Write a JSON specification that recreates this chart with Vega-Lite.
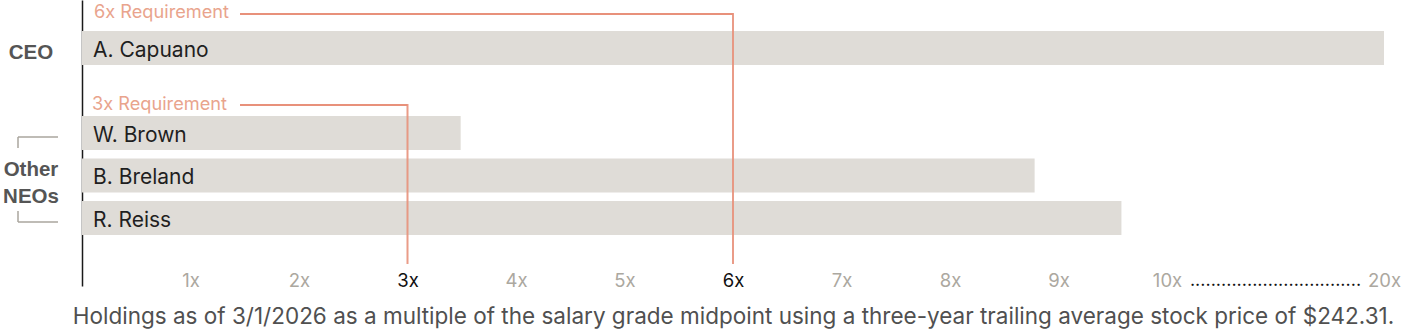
{
  "$schema": "https://vega.github.io/schema/vega-lite/v6.json",
  "width": 1302,
  "height": 286,
  "autosize": "none",
  "padding": {"left": 82, "top": 0, "right": 18, "bottom": 46},
  "config": {
    "font": "Inter",
    "view": {"stroke": null},
    "axisY": {"labels": false, "ticks": false, "grid": false, "domainColor": "#1a1a1a", "domainWidth": 1.5},
    "axisX": {"domain": false, "ticks": false, "tickSize": 0, "grid": false, "labelFlush": false, "labelOverlap": false, "labelBound": false}
  },
  "datasets": {
    "holdings": [
      {"name": "A. Capuano", "group": "CEO", "multiple": 20},
      {"name": "W. Brown", "group": "Other NEOs", "multiple": 3.49},
      {"name": "B. Breland", "group": "Other NEOs", "multiple": 8.78},
      {"name": "R. Reiss", "group": "Other NEOs", "multiple": 9.58}
    ],
    "requirements": [
      {"label": "6x Requirement", "req": 6, "anchor": "A. Capuano", "last": "R. Reiss", "base": 0},
      {"label": "3x Requirement", "req": 3, "anchor": "W. Brown", "last": "R. Reiss", "base": 0}
    ],
    "groups": [
      {"group": "CEO", "anchor": "A. Capuano", "base": 0},
      {"group": "Other NEOs", "anchor": "B. Breland", "base": 0}
    ],
    "brackets": [
      {"top": "W. Brown", "bottom": "R. Reiss", "base": 0}
    ],
    "leader": [
      {"dots": ".................................", "mid": 15, "anchor": "R. Reiss"}
    ]
  },
  "layer": [
    {
      "data": {"name": "holdings"},
      "mark": {"type": "bar", "color": "#dfdcd7"},
      "encoding": {
        "x": {
          "field": "multiple",
          "type": "quantitative",
          "scale": {"domain": [0, 10, 20], "range": [0, 1085, 1302]},
          "axis": {
            "values": [1, 2, 3, 4, 5, 6, 7, 8, 9, 10, 20],
            "labelExpr": "datum.value + 'x'",
            "labelFontSize": 18.5,
            "labelBaseline": "alphabetic",
            "labelPadding": 0,
            "labelColor": {"condition": {"test": "datum.value == 3 || datum.value == 6", "value": "#111111"}, "value": "#aca89f"},
            "title": "Holdings as of 3/1/2026 as a multiple of the salary grade midpoint using a three-year trailing average stock price of $242.31.",
            "titleFontSize": 22.5,
            "titleFontWeight": "normal",
            "titleColor": "#505050",
            "titleBaseline": "alphabetic",
            "titleY": 37
          }
        },
        "y": {
          "field": "name",
          "type": "nominal",
          "title": null,
          "sort": null,
          "scale": {"domain": ["A. Capuano", " ", "W. Brown", "B. Breland", "R. Reiss"], "paddingInner": 0.2, "paddingOuter": 0.965, "align": 0.378}
        }
      }
    },
    {
      "data": {"name": "holdings"},
      "mark": {"type": "text", "align": "left", "baseline": "middle", "dx": 11, "dy": 3, "fontSize": 21, "color": "#1f1f1f"},
      "encoding": {
        "x": {"datum": 0, "type": "quantitative"},
        "y": {"field": "name", "type": "nominal", "title": null},
        "text": {"field": "name"}
      }
    },
    {
      "data": {"name": "requirements"},
      "transform": [{"filter": "datum.req == 6"}],
      "layer": [
        {
          "mark": {"type": "text", "align": "left", "baseline": "alphabetic", "dx": 12, "dy": -30, "fontSize": 18.2, "color": "#e9a48d"},
          "encoding": {
            "x": {"field": "base", "type": "quantitative"},
            "y": {"field": "anchor", "type": "nominal", "title": null},
            "text": {"field": "label"}
          }
        },
        {
          "mark": {"type": "rule", "color": "#e8917b", "strokeWidth": 2, "xOffset": 158, "yOffset": -34},
          "encoding": {
            "x": {"field": "base", "type": "quantitative"},
            "x2": {"field": "req"},
            "y": {"field": "anchor", "type": "nominal", "title": null}
          }
        },
        {
          "mark": {"type": "rule", "color": "#e8917b", "strokeWidth": 2, "opacity": 0.9, "yOffset": -35, "y2Offset": 46},
          "encoding": {
            "x": {"field": "req", "type": "quantitative"},
            "y": {"field": "anchor", "type": "nominal", "title": null},
            "y2": {"field": "last"}
          }
        }
      ]
    },
    {
      "data": {"name": "requirements"},
      "transform": [{"filter": "datum.req == 3"}],
      "layer": [
        {
          "mark": {"type": "text", "align": "left", "baseline": "alphabetic", "dx": 10, "dy": -23, "fontSize": 18.2, "color": "#e9a48d"},
          "encoding": {
            "x": {"field": "base", "type": "quantitative"},
            "y": {"field": "anchor", "type": "nominal", "title": null},
            "text": {"field": "label"}
          }
        },
        {
          "mark": {"type": "rule", "color": "#e8917b", "strokeWidth": 2, "xOffset": 158, "yOffset": -28},
          "encoding": {
            "x": {"field": "base", "type": "quantitative"},
            "x2": {"field": "req"},
            "y": {"field": "anchor", "type": "nominal", "title": null}
          }
        },
        {
          "mark": {"type": "rule", "color": "#e8917b", "strokeWidth": 2, "opacity": 0.9, "yOffset": -29, "y2Offset": 46},
          "encoding": {
            "x": {"field": "req", "type": "quantitative"},
            "y": {"field": "anchor", "type": "nominal", "title": null},
            "y2": {"field": "last"}
          }
        }
      ]
    },
    {
      "data": {"name": "groups"},
      "transform": [{"filter": "datum.group == 'CEO'"}],
      "mark": {"type": "text", "align": "center", "baseline": "middle", "dx": -51, "dy": 5, "fontSize": 20.5, "fontWeight": "bold", "font": "Liberation Sans", "color": "#555555"},
      "encoding": {
        "x": {"field": "base", "type": "quantitative"},
        "y": {"field": "anchor", "type": "nominal", "title": null},
        "text": {"field": "group"}
      }
    },
    {
      "data": {"name": "groups"},
      "transform": [{"filter": "datum.group != 'CEO'"}],
      "mark": {"type": "text", "align": "center", "baseline": "middle", "dx": -51, "dy": -5, "fontSize": 20.5, "fontWeight": "bold", "font": "Liberation Sans", "color": "#555555", "lineBreak": " ", "lineHeight": 27},
      "encoding": {
        "x": {"field": "base", "type": "quantitative"},
        "y": {"field": "anchor", "type": "nominal", "title": null},
        "text": {"field": "group"}
      }
    },
    {
      "data": {"name": "brackets"},
      "layer": [
        {
          "mark": {"type": "rule", "color": "#aaa69e", "strokeWidth": 1.5, "xOffset": -64, "x2Offset": -24, "yOffset": 4},
          "encoding": {
            "x": {"field": "base", "type": "quantitative"},
            "x2": {"field": "base"},
            "y": {"field": "top", "type": "nominal", "title": null}
          }
        },
        {
          "mark": {"type": "rule", "color": "#aaa69e", "strokeWidth": 1.5, "xOffset": -64, "yOffset": 4, "y2Offset": 15},
          "encoding": {
            "x": {"field": "base", "type": "quantitative"},
            "y": {"field": "top", "type": "nominal", "title": null},
            "y2": {"field": "top"}
          }
        },
        {
          "mark": {"type": "rule", "color": "#aaa69e", "strokeWidth": 1.5, "xOffset": -64, "x2Offset": -24, "yOffset": 4},
          "encoding": {
            "x": {"field": "base", "type": "quantitative"},
            "x2": {"field": "base"},
            "y": {"field": "bottom", "type": "nominal", "title": null}
          }
        },
        {
          "mark": {"type": "rule", "color": "#aaa69e", "strokeWidth": 1.5, "xOffset": -64, "yOffset": -7, "y2Offset": 4},
          "encoding": {
            "x": {"field": "base", "type": "quantitative"},
            "y": {"field": "bottom", "type": "nominal", "title": null},
            "y2": {"field": "bottom"}
          }
        }
      ]
    },
    {
      "data": {"name": "leader"},
      "mark": {"type": "text", "align": "center", "baseline": "alphabetic", "dy": 68, "fontSize": 18, "color": "#111111"},
      "encoding": {
        "x": {"field": "mid", "type": "quantitative"},
        "y": {"field": "anchor", "type": "nominal", "title": null},
        "text": {"field": "dots"}
      }
    }
  ]
}
